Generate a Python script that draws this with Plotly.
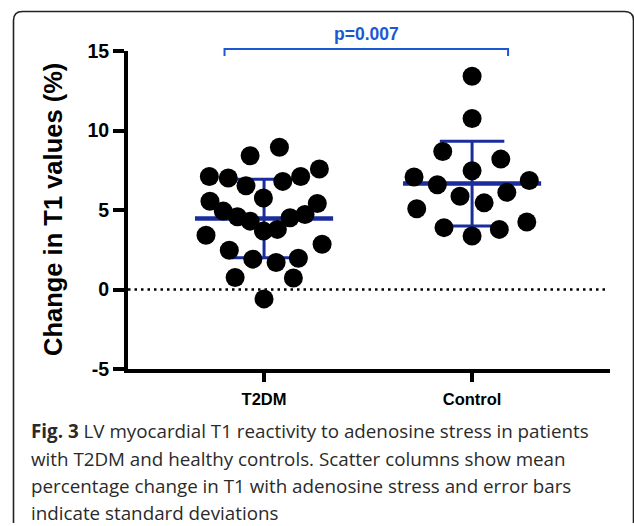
import plotly.graph_objects as go

# ---- data ----
categories = ["T2DM", "Control"]

t2dm_values = [8.95, 8.41, 7.11, 7.01, 6.53, 6.80, 7.11, 7.58, 5.76, 5.55,
               4.93, 4.58, 4.30, 3.68, 3.78, 4.51, 4.72, 5.41, 3.41, 2.47,
               1.91, 1.70, 1.97, 2.84, 0.76, 0.72, -0.59]
t2dm_offsets = [0.074, -0.067, -0.263, -0.172, -0.087, 0.090, 0.176, 0.266, -0.003, -0.260,
                -0.196, -0.128, -0.067, -0.003, 0.064, 0.125, 0.197, 0.256, -0.279, -0.167,
                -0.054, 0.058, 0.165, 0.279, -0.139, 0.141, 0.0]

control_values = [13.41, 10.76, 8.68, 8.20, 7.47, 7.08, 6.59, 6.86, 5.86, 6.11,
                  5.45, 5.08, 3.89, 3.36, 3.78, 4.24]
control_offsets = [0.0, 0.0, -0.141, 0.138, 0.0, -0.279, -0.167, 0.275, -0.058, 0.167,
                   0.058, -0.266, -0.135, 0.0, 0.131, 0.263]

group_means = [4.47, 6.66]
group_sds = [2.47, 2.66]

y_tick_values = [-5, 0, 5, 10, 15]
y_tick_labels = ["-5", "0", "5", "10", "15"]

p_text = "p=0.007"
y_title = "Change in T1 values (%)"
caption_lines = [
    "<b>Fig. 3</b> LV myocardial T1 reactivity to adenosine stress in patients",
    "with T2DM and healthy controls. Scatter columns show mean",
    "percentage change in T1 with adenosine stress and error bars",
    "indicate standard deviations",
]

# ---- layout constants ----
W, H = 634, 526
ML, MR, MT, MB = 128, 24, 51, 157
PW, PH = W - ML - MR, H - MT - MB
XR = [-0.654, 1.663]
NAVY = "#1b2d9c"
PBLUE = "#1d58d0"


def px_x(p):
    return (p - ML) / PW


def px_y(p):
    return (H - MB - p) / PH


def dx(v):  # data x -> paper x
    return (v - XR[0]) / (XR[1] - XR[0])


def dy(v):  # data y -> paper y
    return (v + 5) / 20


fig = go.Figure()

# error bars (mean line + SD whiskers), drawn behind points
mean_half = 0.332
cap_half = 0.155
ex, ey = [], []
wx, wy = [], []
for i, (m, s) in enumerate(zip(group_means, group_sds)):
    ex += [i - mean_half, i + mean_half, None]
    ey += [m, m, None]
    wx += [i, i, None, i - cap_half, i + cap_half, None, i - cap_half, i + cap_half, None]
    wy += [m - s, m + s, None, m + s, m + s, None, m - s, m - s, None]

fig.add_trace(go.Scatter(x=wx, y=wy, mode="lines", line=dict(color=NAVY, width=3),
                         hoverinfo="skip", showlegend=False, cliponaxis=False))
fig.add_trace(go.Scatter(x=ex, y=ey, mode="lines", line=dict(color=NAVY, width=4.5),
                         hoverinfo="skip", showlegend=False, cliponaxis=False))

# points
for i, (vals, offs) in enumerate([(t2dm_values, t2dm_offsets), (control_values, control_offsets)]):
    fig.add_trace(go.Scatter(
        x=[i + o for o in offs], y=vals, mode="markers",
        marker=dict(color="black", size=19, line=dict(width=0)),
        name=categories[i], showlegend=False, cliponaxis=False))

# zero dotted line
fig.add_shape(type="line", xref="paper", yref="y", x0=0, x1=0.995, y0=0, y1=0,
              line=dict(color="black", width=2.5, dash="2.5px,4px"))

# significance bracket (paper coords so it is not clipped)
bx0, bx1 = -0.19, 1.173
fig.add_shape(type="path", xref="paper", yref="paper",
              path=(f"M {dx(bx0)} {dy(14.68)} L {dx(bx0)} {dy(15.13)} "
                    f"L {dx(bx1)} {dy(15.13)} L {dx(bx1)} {dy(14.68)}"),
              line=dict(color=PBLUE, width=2))
fig.add_annotation(x=dx((bx0 + bx1) / 2), y=dy(16.07), xref="paper", yref="paper",
                   xanchor="center", yanchor="middle",
                   text=f"<b>{p_text}</b>", showarrow=False,
                   font=dict(family="Liberation Sans, Arial", size=17.5, color=PBLUE))

# y title
fig.add_annotation(x=px_x(53), y=px_y(210), xref="paper", yref="paper", text=f"<b>{y_title}</b>",
                   xanchor="center", yanchor="middle",
                   textangle=-90, showarrow=False,
                   font=dict(family="Liberation Sans, Arial", size=25.5, color="black"))

# caption
cap_y = [431, 458.5, 486, 513]
for line, py in zip(caption_lines, cap_y):
    fig.add_annotation(x=px_x(29), y=px_y(py), xref="paper", yref="paper", text=line,
                       xanchor="left", yanchor="middle", showarrow=False,
                       font=dict(family="Open Sans", size=18.8, color="#2a2a2a"))

# rounded border
bl, bt, br, bb, r = 13.5, 11.5, 633.5, 523, 9
path = (f"M {px_x(bl)} {px_y(bb)} L {px_x(bl)} {px_y(bt + r)} "
        f"Q {px_x(bl)} {px_y(bt)} {px_x(bl + r)} {px_y(bt)} "
        f"L {px_x(br - r)} {px_y(bt)} Q {px_x(br)} {px_y(bt)} {px_x(br)} {px_y(bt + r)} "
        f"L {px_x(br)} {px_y(bb)}")
fig.add_shape(type="path", xref="paper", yref="paper", path=path,
              line=dict(color="#222222", width=1.6))

fig.update_layout(
    width=W, height=H,
    margin=dict(l=ML, r=MR, t=MT, b=MB, pad=0),
    paper_bgcolor="white", plot_bgcolor="white",
    showlegend=False,
    xaxis=dict(range=XR, tickvals=[0, 1], ticktext=categories,
               showgrid=False, zeroline=False, showline=True, linecolor="black", linewidth=4,
               ticks="outside", ticklen=9, tickwidth=4, tickcolor="black", ticklabelstandoff=3,
               tickfont=dict(family="Liberation Sans, Arial", size=16.5, color="black", weight="bold")),
    yaxis=dict(range=[-5, 15], tickvals=y_tick_values, ticktext=y_tick_labels,
               showgrid=False, zeroline=False, showline=True, linecolor="black", linewidth=4,
               ticks="outside", ticklen=11, tickwidth=4, tickcolor="black",
               tickfont=dict(family="Liberation Sans, Arial", size=19.5, color="black", weight="bold")),
)

fig.write_html("out.html", config={"displayModeBar": False},
               post_script="document.body.style.margin='0';document.body.style.overflow='hidden';")
